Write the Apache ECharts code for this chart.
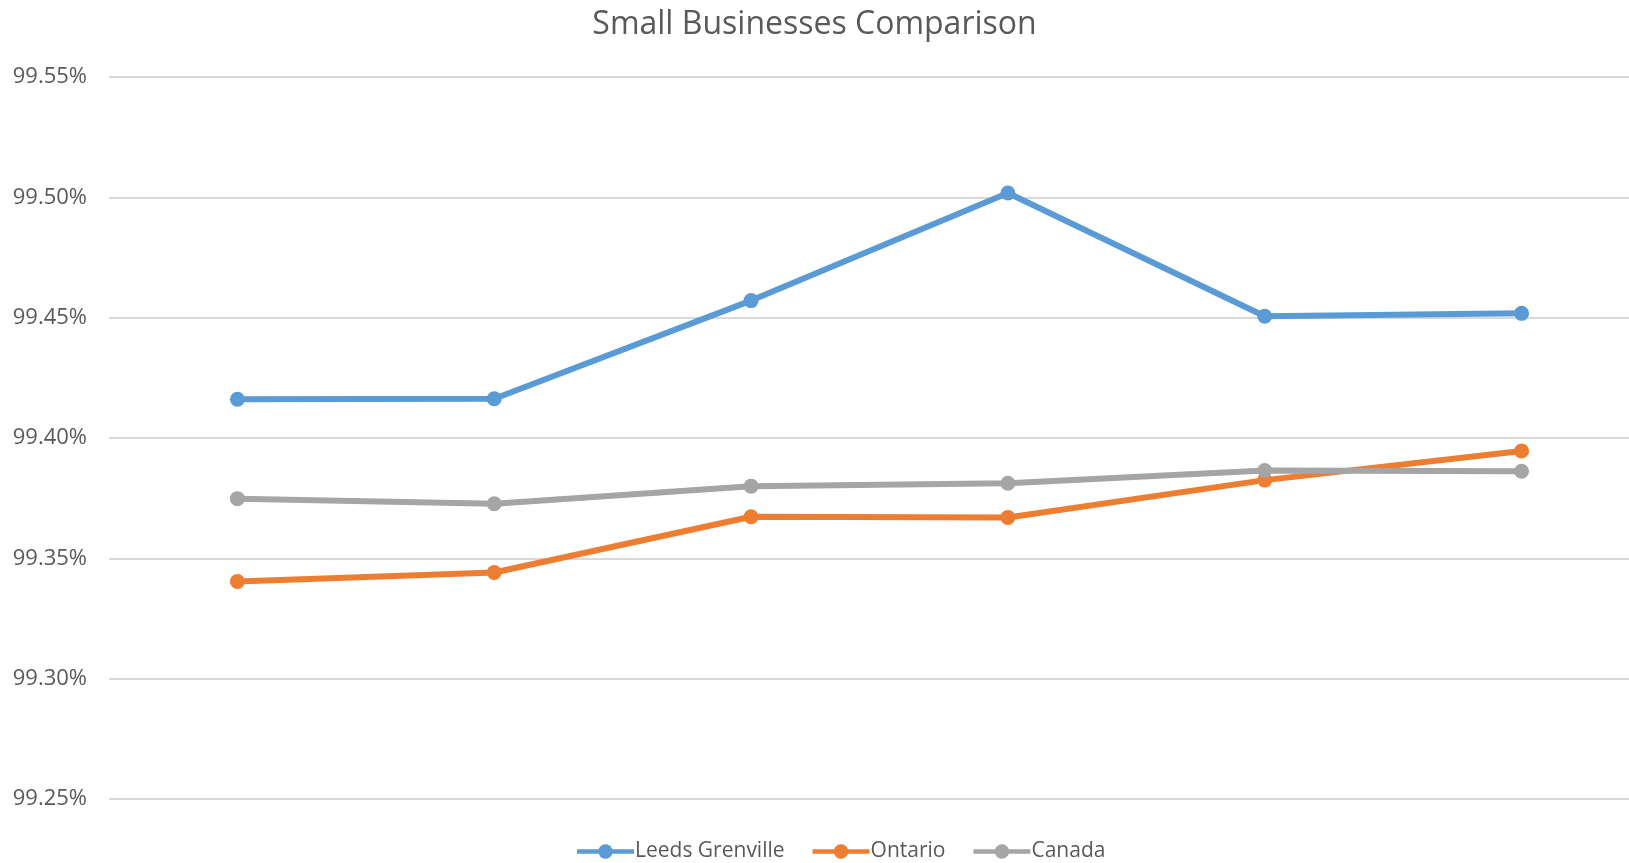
<!DOCTYPE html>
<html>
<head>
<meta charset="utf-8">
<script src="https://cdn.jsdelivr.net/npm/echarts@6/dist/echarts.min.js"></script>
<style>
html,body{margin:0;padding:0;background:#fff;}
#chart{width:1629px;height:863px;}
</style>
</head>
<body>
<div id="chart"></div>
<script>
const categories = ['1', '2', '3', '4', '5', '6'];
const leedsGrenville = [99.4161, 99.4163, 99.4571, 99.5018, 99.4506, 99.4518];
const ontario = [99.3404, 99.3441, 99.3673, 99.3670, 99.3825, 99.3946];
const canada = [99.3748, 99.3727, 99.3800, 99.3812, 99.3865, 99.3862];
const yTicks = { min: 99.25, max: 99.55, interval: 0.05 };

const font = '"Open Sans", "Noto Sans", sans-serif';
const chart = echarts.init(document.getElementById('chart'));

function mk(name, data, color) {
  return {
    name: name, type: 'line', data: data,
    symbol: 'circle', symbolSize: 15,
    lineStyle: { width: 6, color: color },
    itemStyle: { color: color },
    emphasis: { disabled: true }
  };
}

chart.setOption({
  animation: false,
  title: {
    text: 'Small Businesses Comparison',
    left: 'center', top: 4,
    textStyle: { fontFamily: font, fontSize: 32, fontWeight: 'normal', color: '#595959' }
  },
  legend: {
    bottom: -4, left: 572,
    itemWidth: 57, itemHeight: 14.5, itemGap: 28,
    icon: 'path://M0,5 L21.61,5 A7.25,7.25 0 0,1 35.39,5 L57,5 L57,9.5 L35.39,9.5 A7.25,7.25 0 0,1 21.61,9.5 L0,9.5 Z',
    textStyle: { fontFamily: font, fontSize: 21, color: '#595959', padding: [0,0,0,-4] },
    data: ['Leeds Grenville', 'Ontario', 'Canada']
  },
  grid: { left: 109, right: -21, top: 77, bottom: 64, containLabel: false, outerBoundsMode: 'none' },
  xAxis: {
    type: 'category', data: categories, boundaryGap: true,
    axisLine: { show: false }, axisTick: { show: false }, axisLabel: { show: false }
  },
  yAxis: {
    type: 'value', min: yTicks.min, max: yTicks.max, interval: yTicks.interval,
    axisLine: { show: false }, axisTick: { show: false },
    splitLine: { lineStyle: { color: '#D9D9D9', width: 2 } },
    axisLabel: {
      fontFamily: font, fontSize: 22, color: '#595959', margin: 22,
      formatter: v => v.toFixed(2) + '%'
    }
  },
  series: [
    mk('Leeds Grenville', leedsGrenville, '#5B9BD5'),
    mk('Ontario', ontario, '#ED7D31'),
    mk('Canada', canada, '#A5A5A5')
  ]
});
</script>
</body>
</html>
